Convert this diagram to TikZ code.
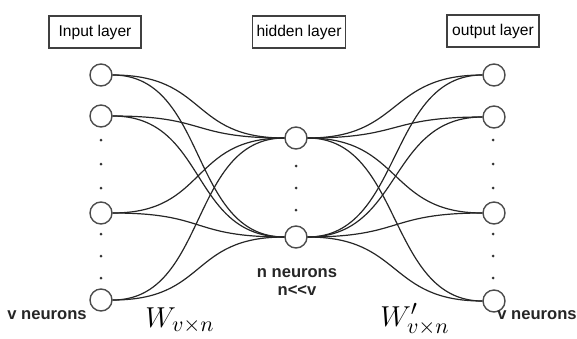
\documentclass[tikz,border=0pt]{standalone}
\usepackage{fontspec}
\setmainfont{Liberation Sans}
\usepackage{amsmath}

\begin{document}
\begin{tikzpicture}[x=0.5pt, y=-0.5pt,
  layerbox/.style={draw=black!75, line width=0.6pt, minimum width=46pt, minimum height=16pt,
    inner sep=2pt, font=\fontsize{7.8}{9}\selectfont},
  neuron/.style={circle, draw=black!70, line width=0.7pt, fill=white, minimum size=11pt, inner sep=0pt},
  vdot/.style={circle, fill=black!80, minimum size=1.5pt, inner sep=0pt},
  weight/.style={black!85, line width=0.6pt},
  countlabel/.style={font=\fontsize{8.3}{9}\selectfont\bfseries, text=black!85, align=center},
  matlabel/.style={anchor=base west, inner sep=0pt, font=\fontsize{15}{17}\selectfont}]
  \useasboundingbox (0,0) rectangle (577,338);

  % Layer titles
  \node[layerbox] (inbox)  at (95,32)  {Input layer};
  \node[layerbox] (hidbox) at (299,32) {hidden layer};
  \node[layerbox] (outbox) at (493,31) {output layer};

  % Neurons
  \foreach \i/\y in {1/75,2/116,3/213,4/300}
    \node[neuron] (in\i) at (101,\y) {};
  \foreach \j/\y in {1/138,2/237}
    \node[neuron] (hid\j) at (296,\y) {};
  \foreach \i/\y in {1/75,2/117,3/213,4/301}
    \node[neuron] (out\i) at (494,\y) {};

  % Skipped neurons
  \foreach \y in {140,164,188,234,256,278} {
    \node[vdot] (indot\y)  at (101,\y) {};
    \node[vdot] (outdot\y) at (493,\y) {};
  }
  \foreach \y in {166,188,210}
    \node[vdot] (hiddot\y) at (296,\y) {};

  % Weights: encoder and decoder
  \foreach \i in {1,...,4}
    \foreach \j in {1,2} {
      \draw[weight] (in\i.east) .. controls +(95,0) and +(-95,0) .. (hid\j.west);
      \draw[weight] (hid\j.east) .. controls +(95,0) and +(-95,0) .. (out\i.west);
    }

  % Labels
  \node[countlabel] (vin)  at (47,315)  {v neurons};
  \node[countlabel] (vout) at (537,315) {v neurons};
  \node[countlabel] (nhid) at (297,282) {n neurons\\n{<}{<}v};
  \node[matlabel] (wenc) at (145,327) {$W_{v\times n}$};
  \node[matlabel] (wdec) at (380,326) {$W'_{v\times n}$};
\end{tikzpicture}
\end{document}
